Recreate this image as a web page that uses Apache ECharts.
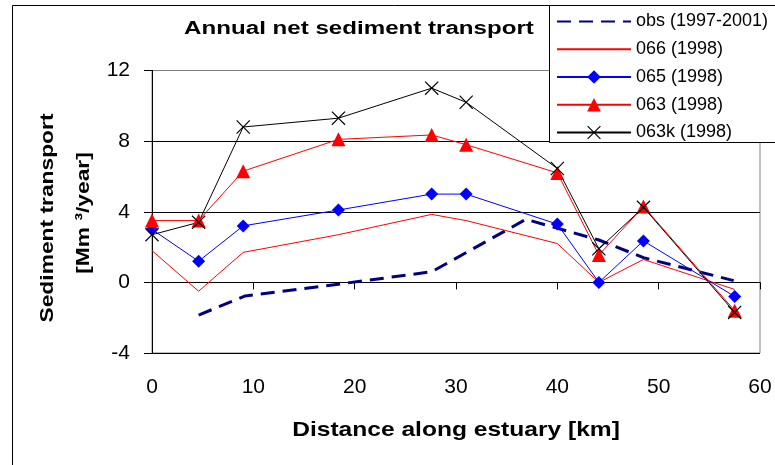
<!DOCTYPE html>
<html>
<head>
<meta charset="utf-8">
<script src="https://cdn.jsdelivr.net/npm/echarts@6/dist/echarts.min.js"></script>
<style>
  html, body { margin: 0; padding: 0; background: #fff; }
  #chart { width: 775px; height: 465px; }
</style>
</head>
<body>
<div id="chart"></div>
<script>
// Distance along the estuary (km) of the model output stations
const distanceKm = [0, 4.6, 9, 18.4, 27.6, 31, 40, 44.1, 48.5, 57.5];

// Observed net transport (1997-2001)
const obsKm = [4.6, 9.2, 18.4, 27.6, 36.9, 44.1, 48.5, 57.4];
const obsValues = [-1.85, -0.77, -0.1, 0.6, 3.57, 2.4, 1.4, 0.1];

// Model runs, 1998 (Mm3/year)
const run066 = [1.8, -0.5, 1.7, 2.7, 3.85, 3.5, 2.2, 0, 1.3, -0.4];
const run065 = [3.0, 1.2, 3.2, 4.1, 5.0, 5.0, 3.3, 0, 2.35, -0.8];
const run063 = [3.5, 3.5, 6.3, 8.1, 8.35, 7.8, 6.2, 1.55, 4.3, -1.6];
const run063k = [2.7, 3.4, 8.8, 9.3, 11.0, 10.2, 6.45, 1.9, 4.25, -1.7];

const seriesNames = ['obs (1997-2001)', '066 (1998)', '065 (1998)', '063 (1998)', '063k (1998)'];

// Axis ticks
const xTicks = [0, 10, 20, 30, 40, 50, 60];
const yTicks = [-4, 0, 4, 8, 12];

const pairs = (xs, ys) => xs.map((x, i) => [x, ys[i]]);

// Thin "x" cross marker, drawn as a filled outline
const crossSymbol = 'path://M0,0.6L0.6,0L5,4.4L9.4,0L10,0.6L5.6,5L10,9.4L9.4,10L5,5.6L0.6,10L0,9.4L4.4,5Z';

const FONT = 'Arial, "Liberation Sans", sans-serif';

const chart = echarts.init(document.getElementById('chart'), null, { renderer: 'canvas' });

chart.setOption({
  animation: false,
  backgroundColor: '#ffffff',
  grid: {
    left: 152, right: 15, top: 70.5, bottom: 112,
    show: true, borderColor: '#808080', borderWidth: 1,
    backgroundColor: 'transparent'
  },
  xAxis: {
    type: 'value',
    min: xTicks[0], max: xTicks[xTicks.length - 1], interval: xTicks[1] - xTicks[0],
    axisLine: { show: true, lineStyle: { color: '#000', width: 1 } },
    axisTick: { show: true, length: 7, lineStyle: { color: '#000' } },
    axisLabel: { color: '#000', fontFamily: FONT, fontSize: 21, margin: 24 },
    splitLine: { show: false }
  },
  yAxis: {
    type: 'value',
    min: yTicks[0], max: yTicks[yTicks.length - 1], interval: yTicks[1] - yTicks[0],
    axisLine: { show: true, onZero: false, lineStyle: { color: '#000', width: 1 } },
    axisTick: { show: true, length: 8, lineStyle: { color: '#000' } },
    axisLabel: { color: '#000', fontFamily: FONT, fontSize: 21, margin: 22 },
    splitLine: { show: true, lineStyle: { color: ['#000', '#000', '#000', '#000', '#808080'], width: 1 } }
  },
  legend: {
    orient: 'vertical',
    left: 556, top: 12.5,
    padding: 0,
    itemWidth: 74, itemHeight: 17, itemGap: 9.75,
    selectedMode: false,
    textStyle: { color: '#000', fontFamily: FONT, fontSize: 18, lineHeight: 17 },
    data: [
      // plain lines: no marker in the key
      { name: seriesNames[0], itemStyle: { opacity: 0 } },
      { name: seriesNames[1], itemStyle: { opacity: 0 } },
      seriesNames[2], seriesNames[3], seriesNames[4]
    ]
  },
  series: [
    {
      name: seriesNames[0], type: 'line', data: pairs(obsKm, obsValues),
      symbol: 'none', color: '#000080',
      lineStyle: { color: '#000080', width: 3, type: [14, 8] }
    },
    {
      name: seriesNames[1], type: 'line', data: pairs(distanceKm, run066),
      symbol: 'none', color: '#ff0000',
      lineStyle: { color: '#ff0000', width: 1 }
    },
    {
      name: seriesNames[2], type: 'line', data: pairs(distanceKm, run065),
      symbol: 'diamond', symbolSize: 13, color: '#0000ff',
      lineStyle: { color: '#0000ff', width: 1 },
      itemStyle: { color: '#0000ff', borderWidth: 0 }
    },
    {
      name: seriesNames[3], type: 'line', data: pairs(distanceKm, run063),
      symbol: 'triangle', symbolSize: 14, color: '#ff0000',
      lineStyle: { color: '#ff0000', width: 1 },
      itemStyle: { color: '#ff0000', borderWidth: 0 }
    },
    {
      name: seriesNames[4], type: 'line', data: pairs(distanceKm, run063k),
      symbol: crossSymbol, symbolSize: 14, color: '#000',
      lineStyle: { color: '#000', width: 1 },
      itemStyle: { color: '#000', borderWidth: 0 }
    }
  ],
  graphic: [
    // outer frame (left and top edges)
    { type: 'line', z: 0, shape: { x1: 12.5, y1: 5.5, x2: 12.5, y2: 470 }, style: { stroke: '#000', lineWidth: 1 } },
    { type: 'line', z: 0, shape: { x1: 12.5, y1: 5.5, x2: 780, y2: 5.5 }, style: { stroke: '#000', lineWidth: 1 } },
    // legend box
    { type: 'rect', z: 1, shape: { x: 549.5, y: 5.5, width: 240, height: 137 }, style: { fill: '#fff', stroke: '#000', lineWidth: 1 } },
    // chart title
    {
      type: 'text', z: 5, x: 359, y: 29, scaleX: 1.34,
      style: { text: 'Annual net sediment transport', font: 'bold 18px ' + FONT, fill: '#000', textAlign: 'center', textVerticalAlign: 'middle' }
    },
    // y-axis title, two lines
    {
      type: 'text', z: 5, x: 48, y: 218, rotation: Math.PI / 2, scaleX: 1.2,
      style: { text: 'Sediment transport', font: 'bold 19px ' + FONT, fill: '#000', textAlign: 'center', textVerticalAlign: 'middle' }
    },
    {
      type: 'text', z: 5, x: 84, y: 213, rotation: Math.PI / 2, scaleX: 1.2,
      style: { text: '[Mm \u00B3/year]', font: 'bold 19px ' + FONT, fill: '#000', textAlign: 'center', textVerticalAlign: 'middle' }
    },
    // x-axis title
    {
      type: 'text', z: 5, x: 456, y: 430, scaleX: 1.17,
      style: { text: 'Distance along estuary [km]', font: 'bold 21px ' + FONT, fill: '#000', textAlign: 'center', textVerticalAlign: 'middle' }
    }
  ]
});
</script>
</body>
</html>
